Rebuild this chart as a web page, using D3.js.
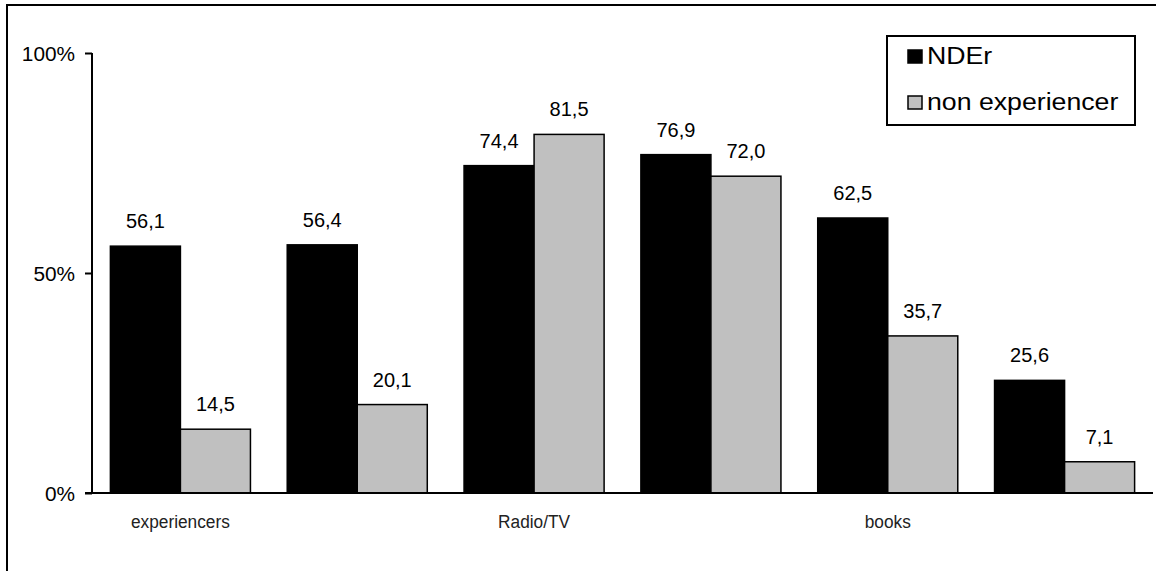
<!DOCTYPE html>
<html>
<head>
<meta charset="utf-8">
<script src="https://cdn.jsdelivr.net/npm/d3@7"></script>
<style>
  body { margin: 0; background: #fff; }
  text { font-family: "Liberation Sans", Arial, sans-serif; fill: #000; }
</style>
</head>
<body>
<svg id="chart" width="1156" height="571"></svg>
<script>
// data
const categories = ["experiencers", "", "Radio/TV", "", "books", ""];
const seriesNames = ["NDEr", "non experiencer"];
const nderValues = [56.1, 56.4, 74.4, 76.9, 62.5, 25.6];
const nonExpValues = [14.5, 20.1, 81.5, 72.0, 35.7, 7.1];
const yTicks = [0, 50, 100];
const seriesColors = ["#000000", "#c0c0c0"];

const svg = d3.select("#chart");

// outer frame (runs off the right/bottom edge like the original)
svg.append("rect")
    .attr("x", 7).attr("y", 5)
    .attr("width", 1160).attr("height", 580)
    .attr("fill", "none")
    .attr("stroke", "#000")
    .attr("stroke-width", 2);

const margin = { left: 92, right: 1153, top: 53, bottom: 493 };

const x = d3.scaleBand()
    .domain(d3.range(categories.length))
    .range([margin.left, margin.right])
    .paddingInner(0.208)
    .paddingOuter(0.104);

const xInner = d3.scaleBand()
    .domain(seriesNames)
    .range([0, x.bandwidth()]);

const y = d3.scaleLinear()
    .domain([0, 100])
    .range([margin.bottom, margin.top]);

const rows = categories.map((c, i) => ({ i, vals: [nderValues[i], nonExpValues[i]] }));

// bars
const groups = svg.selectAll("g.grp")
    .data(rows)
    .join("g")
    .attr("class", "grp")
    .attr("transform", d => `translate(${x(d.i)},0)`);

groups.selectAll("rect")
    .data(d => d.vals.map((v, k) => ({ v, k })))
    .join("rect")
    .attr("x", d => xInner(seriesNames[d.k]))
    .attr("y", d => y(d.v))
    .attr("width", xInner.bandwidth())
    .attr("height", d => y(0) - y(d.v))
    .attr("fill", d => seriesColors[d.k])
    .attr("stroke", "#000")
    .attr("stroke-width", 1.5);

// value labels (comma decimals)
groups.selectAll("text.val")
    .data(d => d.vals.map((v, k) => ({ v, k })))
    .join("text")
    .attr("class", "val")
    .attr("x", d => xInner(seriesNames[d.k]) + xInner.bandwidth() / 2)
    .attr("y", d => y(d.v) - 18)
    .attr("text-anchor", "middle")
    .style("font-size", "20px")
    .text(d => d.v.toFixed(1).replace(".", ","));

// y axis
const yAxis = svg.append("g")
    .attr("transform", `translate(${margin.left},0)`)
    .call(d3.axisLeft(y).tickValues(yTicks).tickSize(7).tickPadding(10).tickFormat(d => d + "%"));
yAxis.attr("font-size", null).attr("font-family", null);
yAxis.select(".domain").attr("stroke", "#000").attr("stroke-width", 2)
    .attr("d", `M0,${margin.top}V${margin.bottom}`);
yAxis.selectAll(".tick line").attr("stroke", "#000").attr("stroke-width", 2);
yAxis.selectAll(".tick text")
    .style("font-size", "20px")
    .attr("dy", "0.35em")
    .each(function () {
        // original labels look a bit wider than plain Arial
        const w = this.getComputedTextLength();
        d3.select(this).attr("textLength", w * 1.04).attr("lengthAdjust", "spacingAndGlyphs");
    });

// x axis
const xAxis = svg.append("g")
    .attr("transform", `translate(0,${margin.bottom})`)
    .call(d3.axisBottom(x).tickSize(0).tickPadding(22).tickFormat(i => categories[i]));
xAxis.attr("font-size", null).attr("font-family", null);
xAxis.select(".domain").attr("stroke", "#000").attr("stroke-width", 2)
    .attr("d", `M${margin.left - 7},0H${margin.right}`);
xAxis.selectAll(".tick text")
    .style("font-size", "18px")
    .style("fill", "#222")
    .each(function () {
        const w = this.getComputedTextLength();
        d3.select(this).attr("textLength", w * 0.96).attr("lengthAdjust", "spacingAndGlyphs");
    });

// legend
const legend = svg.append("g").attr("transform", "translate(887,36)");
legend.append("rect")
    .attr("width", 248).attr("height", 89)
    .attr("fill", "#fff")
    .attr("stroke", "#000")
    .attr("stroke-width", 2);

const items = legend.selectAll("g.item")
    .data(seriesNames)
    .join("g")
    .attr("class", "item")
    .attr("transform", (d, i) => `translate(21,${14 + i * 46})`);

items.append("rect")
    .attr("width", 14).attr("height", 13)
    .attr("fill", (d, i) => seriesColors[i])
    .attr("stroke", "#000")
    .attr("stroke-width", 1.5);

items.append("text")
    .attr("x", 19)
    .attr("y", 14)
    .style("font-size", "23px")
    .text(d => d)
    .each(function () {
        const w = this.getComputedTextLength();
        d3.select(this).attr("textLength", w * 1.16).attr("lengthAdjust", "spacingAndGlyphs");
    });
</script>
</body>
</html>
